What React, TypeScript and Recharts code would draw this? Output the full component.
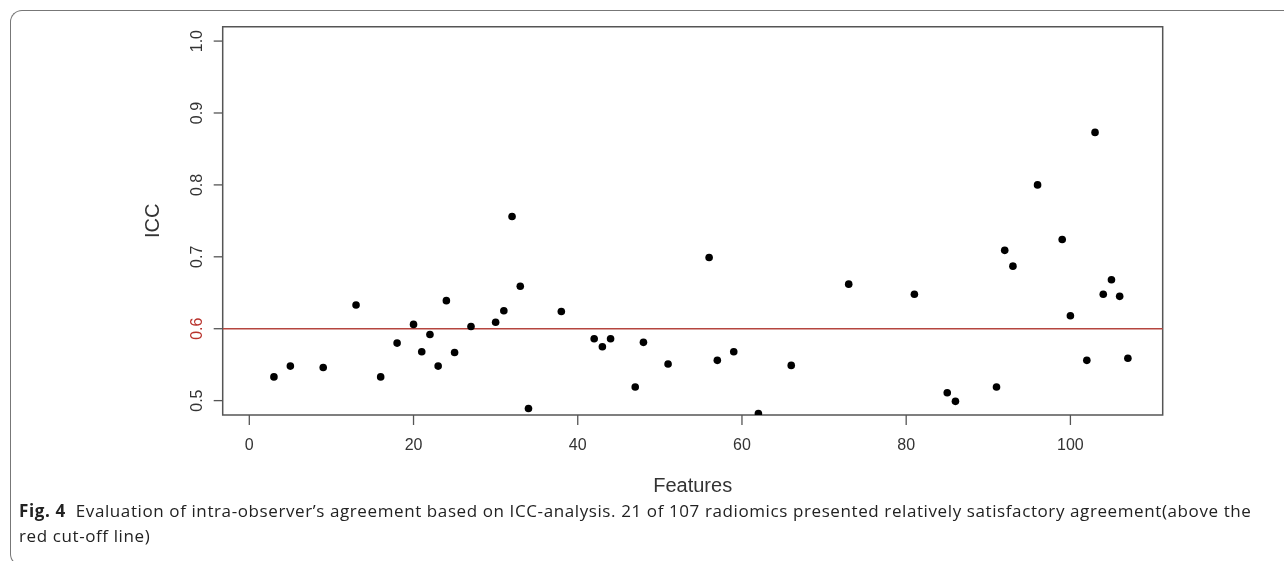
import React from "react";
import {
  ScatterChart,
  Scatter,
  XAxis,
  YAxis,
  ReferenceLine,
  ReferenceArea,
} from "recharts";

// Feature index (x) and ICC value (y)
const featureIndex = [
  3, 5, 9, 13, 16, 18, 20, 21, 22, 23, 24, 25, 27, 30, 31, 32, 33, 34, 38, 42,
  43, 44, 47, 48, 51, 56, 57, 59, 62, 66, 73, 81, 85, 86, 91, 92, 93, 96, 99,
  100, 102, 103, 104, 105, 106, 107,
];
const iccValues = [
  0.533, 0.548, 0.546, 0.633, 0.533, 0.58, 0.606, 0.568, 0.592, 0.548, 0.639,
  0.567, 0.603, 0.609, 0.625, 0.756, 0.659, 0.489, 0.624, 0.586, 0.575, 0.586,
  0.519, 0.581, 0.551, 0.699, 0.556, 0.568, 0.482, 0.549, 0.662, 0.648, 0.511,
  0.499, 0.519, 0.709, 0.687, 0.8, 0.724, 0.618, 0.556, 0.873, 0.648, 0.668,
  0.645, 0.559,
];
const xTicks = [0, 20, 40, 60, 80, 100];
const yTicks = [0.5, 0.6, 0.7, 0.8, 0.9, 1.0];
const xDomain: [number, number] = [-3.24, 111.24];
const yDomain: [number, number] = [0.48, 1.02];
const cutoff = 0.6;

const data = featureIndex.map((f, i) => ({ x: f, y: iccValues[i] }));

const AXIS_FONT = "'Liberation Sans', Arial, Helvetica, sans-serif";

const YTick = (props: any) => {
  const { x, y, payload } = props;
  const v = payload.value as number;
  const isCut = Math.abs(v - cutoff) < 1e-9;
  return (
    <text
      x={x}
      y={y}
      transform={`rotate(-90, ${x}, ${y})`}
      textAnchor="middle"
      fontSize={16}
      fontFamily={AXIS_FONT}
      fill={isCut ? "#b8322c" : "#333"}
    >
      {v.toFixed(1)}
    </text>
  );
};

const XTick = (props: any) => {
  const { x, y, payload } = props;
  return (
    <text
      x={x}
      y={y}
      dy={11.5}
      textAnchor="middle"
      fontSize={16}
      fontFamily={AXIS_FONT}
      fill="#333"
    >
      {payload.value}
    </text>
  );
};

const Dot = (props: any) => {
  const { cx, cy } = props;
  return <circle cx={cx} cy={cy} r={3.8} fill="#000" />;
};

export default function App() {
  return (
    <div style={{ position: "relative", width: 1268, height: 545 }}>
      <div
        style={{
          position: "fixed",
          left: 10,
          top: 10,
          width: 1300,
          height: 556,
          borderTop: "1.5px solid #777",
          borderLeft: "1.5px solid #777",
          borderBottom: "1.5px solid #777",
          borderRadius: "12px 0 0 12px",
          boxSizing: "border-box",
        }}
      />
      <ScatterChart
        width={1268}
        height={545}
        margin={{ top: 18.7, right: 113.3, bottom: 78, left: 134.7 }}
      >
        <XAxis
          type="number"
          dataKey="x"
          domain={xDomain}
          allowDataOverflow
          ticks={xTicks}
          axisLine={false}
          tickLine={{ stroke: "#555", strokeWidth: 1.3 }}
          tickSize={10}
          tickMargin={13}
          height={60}
          tick={<XTick />}
          label={(p: any) => {
            const vb = p.viewBox;
            return (
              <text
                x={vb.x + vb.width / 2}
                y={vb.y + 77}
                textAnchor="middle"
                fontSize={20}
                fontFamily={AXIS_FONT}
                fill="#333"
              >
                Features
              </text>
            );
          }}
        />
        <YAxis
          type="number"
          dataKey="y"
          domain={yDomain}
          allowDataOverflow
          ticks={yTicks}
          axisLine={false}
          tickLine={{ stroke: "#555", strokeWidth: 1.3 }}
          tickSize={9}
          tickMargin={12}
          width={80}
          tick={<YTick />}
          label={(p: any) => {
            const vb = p.viewBox;
            const cx = vb.x + vb.width - 64;
            const cy = vb.y + vb.height / 2;
            return (
              <text
                x={cx}
                y={cy}
                transform={`rotate(-90, ${cx}, ${cy})`}
                textAnchor="middle"
                fontSize={20}
                fontFamily={AXIS_FONT}
                fill="#333"
              >
                ICC
              </text>
            );
          }}
        />
        <ReferenceArea
          x1={xDomain[0]}
          x2={xDomain[1]}
          y1={yDomain[0]}
          y2={yDomain[1]}
          fill="none"
          stroke="#555"
          strokeWidth={1.5}
          ifOverflow="visible"
        />
        <ReferenceLine y={cutoff} stroke="#b5453f" strokeWidth={1.5} />
        <Scatter data={data} shape={<Dot />} isAnimationActive={false} />
      </ScatterChart>
      <div
        style={{
          position: "absolute",
          left: 11,
          top: 490,
          fontFamily: "'Open Sans', 'Noto Sans', sans-serif",
          fontSize: 17,
          letterSpacing: "0.6px",
          lineHeight: "25px",
          color: "#222",
          whiteSpace: "nowrap",
        }}
      >
        <span style={{ fontWeight: 700 }}>Fig. 4</span>
        {"\u00a0\u00a0Evaluation of intra-observer\u2019s agreement based on ICC-analysis. 21 of 107 radiomics presented relatively satisfactory agreement(above the"}
        <br />
        red cut-off line)
      </div>
    </div>
  );
}
